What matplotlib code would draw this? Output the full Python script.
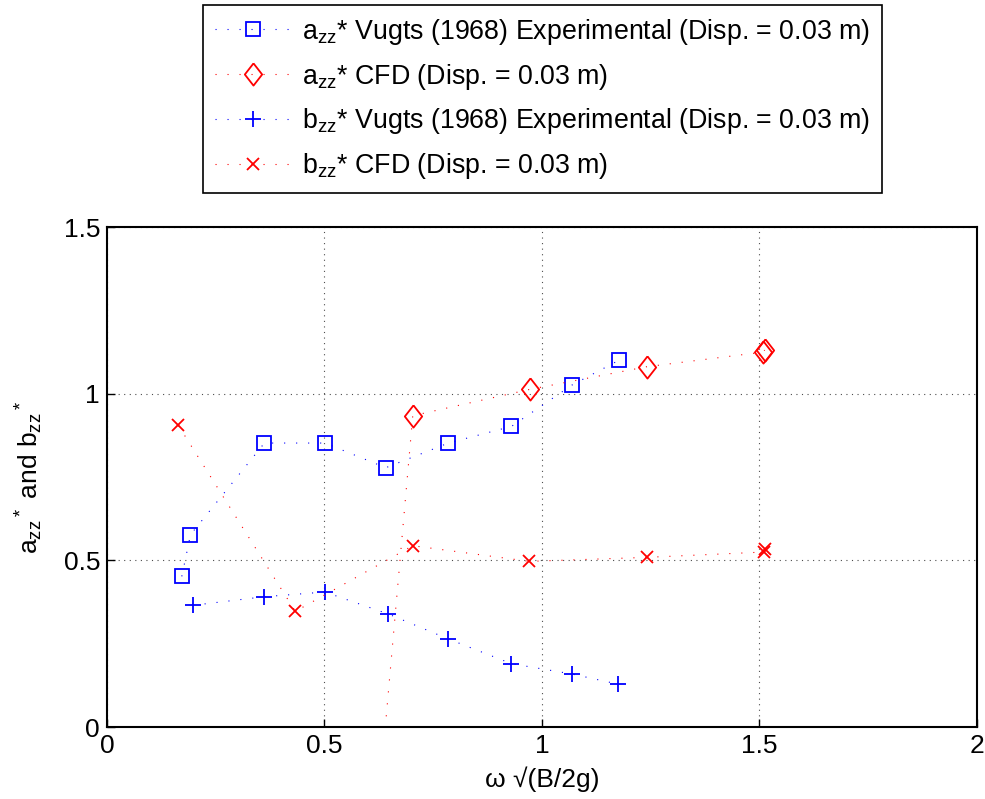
import numpy as np
import matplotlib
matplotlib.use('Agg')
import matplotlib.pyplot as plt

plt.rcParams['font.family'] = ['Liberation Sans', 'DejaVu Sans']
plt.rcParams['mathtext.fontset'] = 'custom'
plt.rcParams['mathtext.rm'] = 'Liberation Sans'
plt.rcParams['mathtext.it'] = 'Liberation Sans'
plt.rcParams['mathtext.default'] = 'regular'

# a_zz* Vugts (1968) experimental
a_exp_x = [0.172, 0.192, 0.362, 0.501, 0.641, 0.785, 0.930, 1.069, 1.178]
a_exp_y = [0.452, 0.577, 0.852, 0.852, 0.778, 0.852, 0.902, 1.026, 1.101]

# a_zz* CFD (first point lies below the plotted range)
a_cfd_x = [0.433, 0.703, 0.972, 1.241, 1.509, 1.512]
a_cfd_y = [-3.06, 0.934, 1.013, 1.081, 1.125, 1.131]

# b_zz* Vugts (1968) experimental
b_exp_x = [0.197, 0.362, 0.501, 0.645, 0.785, 0.930, 1.069, 1.174]
b_exp_y = [0.365, 0.391, 0.405, 0.340, 0.264, 0.190, 0.159, 0.129]

# b_zz* CFD
b_cfd_x = [0.164, 0.433, 0.703, 0.971, 1.241, 1.510, 1.512]
b_cfd_y = [0.905, 0.347, 0.544, 0.497, 0.509, 0.525, 0.534]

labels = [
    r'a$_{zz}$* Vugts (1968) Experimental (Disp. = 0.03 m)',
    r'a$_{zz}$* CFD (Disp. = 0.03 m)',
    r'b$_{zz}$* Vugts (1968) Experimental (Disp. = 0.03 m)',
    r'b$_{zz}$* CFD (Disp. = 0.03 m)',
]

# MATLAB-like diamond, a bit taller than wide
diamond = [(0, 1), (0.78, 0), (0, -1), (-0.78, 0), (0, 1)]

fig = plt.figure(figsize=(9.85, 7.99), dpi=100)
ax = fig.add_axes([0.1086, 0.0901, 0.8832, 0.6257])

dots = (0, (1, 9.8))
lw = 0.8
h1, = ax.plot(a_exp_x, a_exp_y, color='b', linestyle=dots, linewidth=lw,
              marker='s', ms=9.4, mfc='none', mew=1.3, label=labels[0])
h2, = ax.plot(a_cfd_x, a_cfd_y, color='r', linestyle=dots, linewidth=lw,
              marker=diamond, ms=16, mfc='none', mew=1.3, label=labels[1])
h3, = ax.plot(b_exp_x, b_exp_y, color='b', linestyle=dots, linewidth=lw,
              marker='+', ms=12, mew=1.3, label=labels[2])
h4, = ax.plot(b_cfd_x, b_cfd_y, color='r', linestyle=dots, linewidth=lw,
              marker='x', ms=9, mew=1.3, label=labels[3])

ax.set_xlim(0, 2)
ax.set_ylim(0, 1.5)
ax.set_xticks([0, 0.5, 1, 1.5, 2])
ax.set_xticklabels(['0', '0.5', '1', '1.5', '2'])
ax.set_yticks([0, 0.5, 1, 1.5])
ax.set_yticklabels(['0', '0.5', '1', '1.5'])
ax.tick_params(direction='in', length=6, width=1, labelsize=19, pad=5)
ax.grid(True, color='0.3', linestyle=(0, (1, 4)), linewidth=0.8)
for s in ax.spines.values():
    s.set_linewidth(1.5)

ax.set_xlabel('ω √(B/2g)', fontsize=19, labelpad=6)
ax.set_ylabel(r'a$_{zz}$$^*$ and b$_{zz}$$^*$', fontsize=19, labelpad=13)

leg = fig.legend(handles=[h1, h2, h3, h4], loc='upper center',
                 bbox_to_anchor=(0.5508, 0.994), fontsize=19.3, frameon=True,
                 fancybox=False, edgecolor='k', framealpha=1,
                 handlelength=2.8, labelspacing=0.55, borderpad=0.45,
                 handletextpad=0.45, borderaxespad=0)
leg.get_frame().set_linewidth(1.2)

fig.savefig('out.png', dpi=100)
